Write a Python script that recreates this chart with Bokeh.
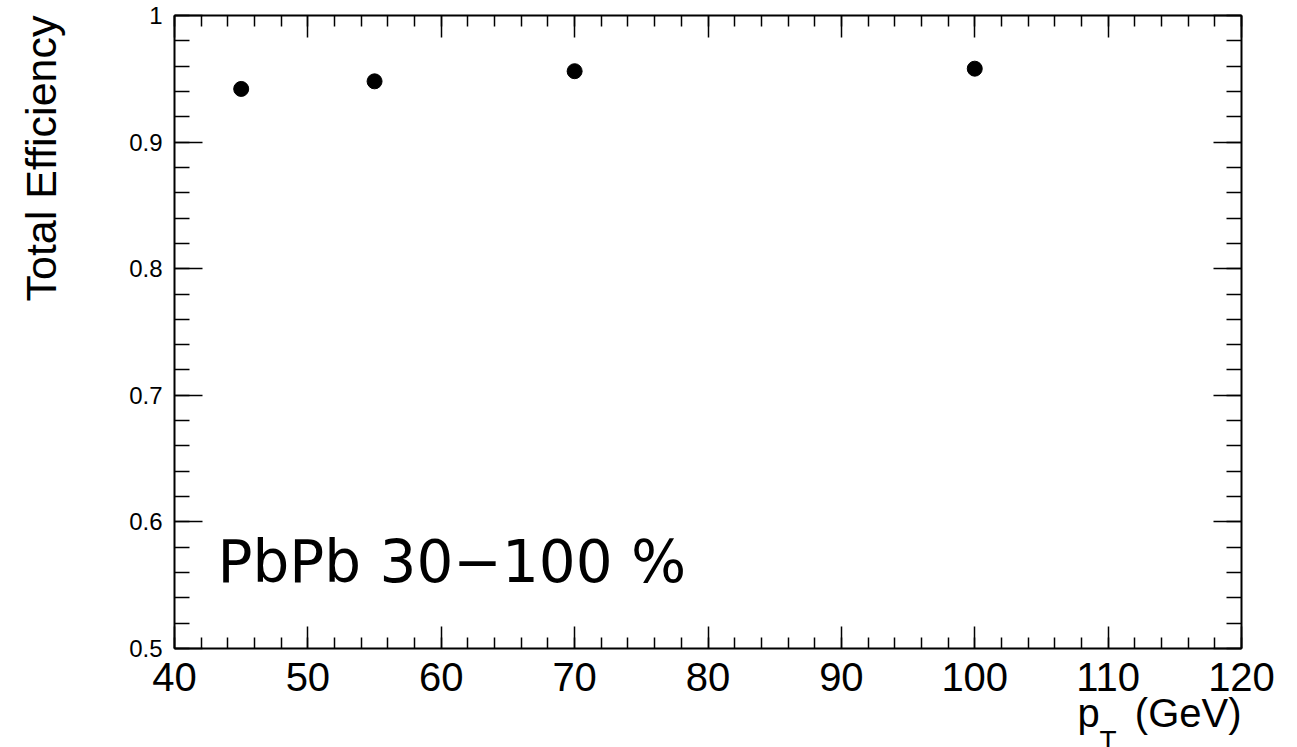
from bokeh.plotting import figure
from bokeh.models import (Range1d, LinearAxis, SingleIntervalTicker, Label,
                          CustomJSTickFormatter, ColumnDataSource)
from bokeh.embed import file_html
from bokeh.resources import INLINE
import math

# Efficiency versus jet pT
pt = [45, 55, 70, 100]
efficiency = [0.942, 0.948, 0.956, 0.958]

x_min, x_max = 40, 120
y_min, y_max = 0.5, 1.0
x_ticks_interval = 10
y_ticks_interval = 0.1

# page size and the pixel box that the axes enclose
W, H = 1297, 747
LEFT, RIGHT, TOP, BOTTOM = 174, 1241, 15, 648

sx = (x_max - x_min) / (RIGHT - LEFT)
sy = (y_max - y_min) / (BOTTOM - TOP)


def dx(px):
    return x_min + (px - LEFT) * sx


def dy(py):
    return y_max - (py - TOP) * sy


# the frame covers the whole canvas; the axes are pinned to the box edges
p = figure(width=W, height=H, output_backend="svg", toolbar_location=None,
           x_range=Range1d(dx(0), dx(W)), y_range=Range1d(dy(H), dy(0)),
           x_axis_location=None, y_axis_location=None, min_border=0)
p.grid.visible = False
p.outline_line_color = None
p.background_fill_color = "white"
p.border_fill_color = "white"

FONT = "Liberation Sans"


def make_axis(kind, where, labels):
    ax = LinearAxis(fixed_location=where)
    if kind == "x":
        ax.ticker = SingleIntervalTicker(interval=x_ticks_interval, num_minor_ticks=5)
        ax.bounds = (x_min, x_max)
        ax.major_tick_in, ax.minor_tick_in = 22, 11
        ax.major_label_text_font_size = "40px"
        ax.major_label_standoff = 14
    else:
        ax.ticker = SingleIntervalTicker(interval=y_ticks_interval, num_minor_ticks=5)
        ax.bounds = (y_min, y_max)
        ax.major_tick_in, ax.minor_tick_in = 28, 15
        ax.major_label_text_font_size = "24px"
        ax.major_label_standoff = 12
        ax.formatter = CustomJSTickFormatter(
            code="return (Math.round(tick*10)/10).toString();")
    ax.major_tick_out = 0
    ax.minor_tick_out = 0
    ax.axis_line_width = 2
    ax.major_tick_line_width = 1.5
    ax.minor_tick_line_width = 1.5
    ax.major_label_text_font = FONT
    ax.major_label_text_color = "black"
    if not labels:
        ax.major_label_text_alpha = 0
        ax.major_label_standoff = 0
    return ax


p.add_layout(make_axis("x", y_min, True), "below")
p.add_layout(make_axis("x", y_max, False), "above")
p.add_layout(make_axis("y", x_min, True), "left")
p.add_layout(make_axis("y", x_max, False), "right")

src = ColumnDataSource(dict(x=pt, y=efficiency))
p.scatter("x", "y", source=src, size=15, color="black", marker="circle")


def label(px, py, text, size, font=FONT, **kw):
    p.add_layout(Label(x=dx(px), y=dy(py), text=text, text_font=font,
                       text_font_size=size, text_color="black",
                       text_baseline="alphabetic", **kw))


label(40, 15, "Total Efficiency", "43px", angle=math.pi / 2, text_align="right")
label(1241, 712, "(GeV)", "40px", text_align="right")
label(1077, 712, "p", "40px", text_align="left")
label(1099, 740, "T", "28px", text_align="left")
label(217, 561, "PbPb 30\u2212100 %", "58px", font="DejaVu Sans", text_align="left")

open("out.html", "w").write(file_html(p, INLINE))
